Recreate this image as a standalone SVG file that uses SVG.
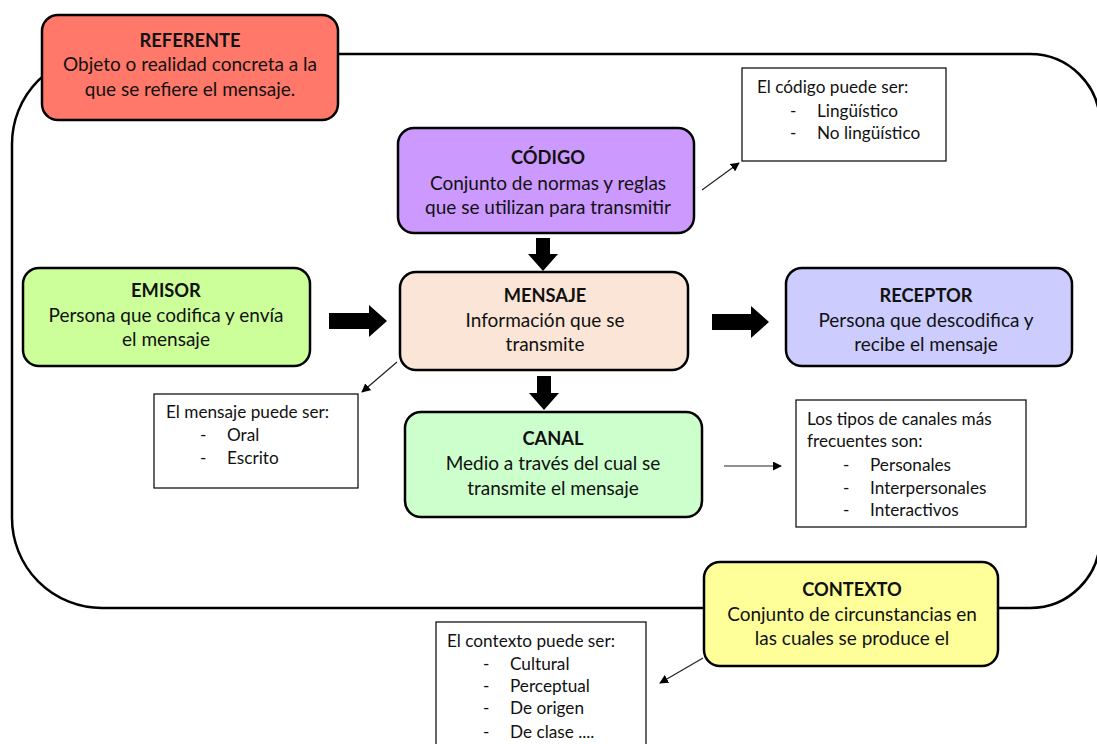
<svg xmlns="http://www.w3.org/2000/svg" width="1097" height="744" viewBox="0 0 1097 744">
<defs>
<marker id="ah" viewBox="0 0 10 10" refX="9" refY="5" markerWidth="9" markerHeight="9" markerUnits="userSpaceOnUse" orient="auto"><path d="M0,0 L10,5 L0,10 Z" fill="#000"/></marker>
</defs>
<style>
.box{stroke:#000;stroke-width:2.5}
.note{fill:#fff;stroke:#000;stroke-width:1.2}
.t{font-family:Lato,"Liberation Sans",sans-serif;font-size:19px;fill:#111;text-anchor:middle}
.b{font-weight:bold;font-size:18.3px}
.n{font-family:Lato,"Liberation Sans",sans-serif;font-size:17.2px;fill:#111}
.thin{stroke:#222;stroke-width:1.2;fill:none;marker-end:url(#ah)}
.blk{fill:#000}
</style>
<rect width="1097" height="744" fill="#fff"/>
<path id="outline" d="M102 54 H1030 A70 70 0 0 1 1100 124 V538 A70 70 0 0 1 1030 608 H102 A90 90 0 0 1 12 518 V144 A90 90 0 0 1 102 54 Z" fill="none" stroke="#000" stroke-width="2.5"/>
<g id="connectors">
<polygon class="blk" points="536,238 550,238 550,254 558,254 543,271 528,254 536,254"/>
<polygon class="blk" points="537,376 551,376 551,393 559,393 544,410 529,393 537,393"/>
<polygon class="blk" points="329,313 369,313 369,305 387,321 369,337 369,329 329,329"/>
<polygon class="blk" points="712,314 751,314 751,306 769,322 751,338 751,330 712,330"/>
<line class="thin" x1="702" y1="190" x2="739" y2="163"/>
<line class="thin" x1="397" y1="362" x2="362" y2="392"/>
<line class="thin" x1="724" y1="466" x2="781" y2="466"/>
<line class="thin" x1="703" y1="658" x2="660" y2="683"/>
</g>
<g id="referente">
<rect class="box" x="42" y="15" width="296" height="105" rx="16" fill="#FF7869"/>
<text class="t b" x="190" y="47">REFERENTE</text>
<text class="t" x="190" y="71">Objeto o realidad concreta a la</text>
<text class="t" x="190" y="96">que se refiere el mensaje.</text>
</g>
<g id="codigo">
<rect class="box" x="398" y="128" width="296" height="105" rx="16" fill="#CC99FF"/>
<text class="t b" x="548" y="164">CÓDIGO</text>
<text class="t" x="548" y="190">Conjunto de normas y reglas</text>
<text class="t" x="548" y="214">que se utilizan para transmitir</text>
</g>
<g id="nota-codigo">
<rect class="note" x="742" y="68" width="204" height="93"/>
<text class="n" x="757" y="93">El código puede ser:</text>
<text class="n" x="790" y="117">-</text><text class="n" x="817" y="117">Lingüístico</text>
<text class="n" x="790" y="139">-</text><text class="n" x="817" y="139">No lingüístico</text>
</g>
<g id="emisor">
<rect class="box" x="23" y="268" width="287" height="98" rx="16" fill="#CCFF99"/>
<text class="t b" x="166" y="297">EMISOR</text>
<text class="t" x="166" y="322">Persona que codifica y envía</text>
<text class="t" x="166" y="346">el mensaje</text>
</g>
<g id="mensaje">
<rect class="box" x="400" y="272" width="288" height="98" rx="16" fill="#FBE5D6"/>
<text class="t b" x="545" y="302">MENSAJE</text>
<text class="t" x="545" y="327">Información que se</text>
<text class="t" x="545" y="351">transmite</text>
</g>
<g id="receptor">
<rect class="box" x="786" y="268" width="286" height="98" rx="16" fill="#CCCCFF"/>
<text class="t b" x="926" y="302">RECEPTOR</text>
<text class="t" x="926" y="327">Persona que descodifica y</text>
<text class="t" x="926" y="351">recibe el mensaje</text>
</g>
<g id="nota-mensaje">
<rect class="note" x="154" y="394" width="204" height="94"/>
<text class="n" x="166" y="418">El mensaje puede ser:</text>
<text class="n" x="200" y="441">-</text><text class="n" x="227" y="441">Oral</text>
<text class="n" x="200" y="464">-</text><text class="n" x="227" y="464">Escrito</text>
</g>
<g id="canal">
<rect class="box" x="405" y="412" width="297" height="105" rx="16" fill="#CCFFCC"/>
<text class="t b" x="553" y="445">CANAL</text>
<text class="t" x="553" y="470">Medio a través del cual se</text>
<text class="t" x="553" y="495">transmite el mensaje</text>
</g>
<g id="nota-canal">
<rect class="note" x="796" y="400" width="230" height="127"/>
<text class="n" x="807" y="425">Los tipos de canales más</text>
<text class="n" x="807" y="447">frecuentes son:</text>
<text class="n" x="843" y="471">-</text><text class="n" x="870" y="471">Personales</text>
<text class="n" x="843" y="494">-</text><text class="n" x="870" y="494">Interpersonales</text>
<text class="n" x="843" y="516">-</text><text class="n" x="870" y="516">Interactivos</text>
</g>
<g id="contexto">
<rect class="box" x="704" y="562" width="294" height="104" rx="16" fill="#FFFF99"/>
<text class="t b" x="852" y="596">CONTEXTO</text>
<text class="t" x="852" y="621">Conjunto de circunstancias en</text>
<text class="t" x="852" y="645">las cuales se produce el</text>
</g>
<g id="nota-contexto">
<rect class="note" x="436" y="622" width="210" height="130"/>
<text class="n" x="447" y="647">El contexto puede ser:</text>
<text class="n" x="483" y="670">-</text><text class="n" x="510" y="670">Cultural</text>
<text class="n" x="483" y="692">-</text><text class="n" x="510" y="692">Perceptual</text>
<text class="n" x="483" y="714">-</text><text class="n" x="510" y="714">De origen</text>
<text class="n" x="483" y="738">-</text><text class="n" x="510" y="738">De clase ....</text>
</g>
</svg>
